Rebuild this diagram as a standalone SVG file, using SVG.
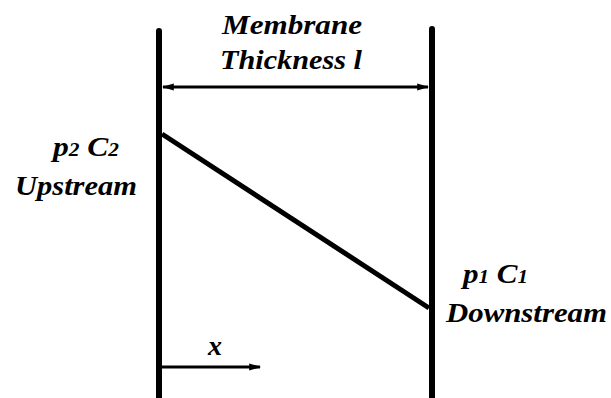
<svg xmlns="http://www.w3.org/2000/svg" width="611" height="398" viewBox="0 0 611 398">
<style>
text{font-family:'Liberation Serif','DejaVu Serif',serif;font-weight:bold;font-style:italic;font-size:28px;fill:#000}
.sub{font-size:19px}
.wall{stroke:#000;stroke-width:6;stroke-linecap:round}
.ln{stroke:#000;stroke-width:3;fill:none}
</style>
<defs>
<marker id="ah" viewBox="0 0 10 10" refX="9" refY="5" markerWidth="4" markerHeight="4" orient="auto-start-reverse" markerUnits="strokeWidth">
<path d="M0,2 L10,5 L0,8 Z" fill="#000"/>
</marker>
</defs>
<g id="wall-left"><line class="wall" x1="159" y1="31" x2="159" y2="398"/></g>
<g id="wall-right"><line class="wall" x1="432" y1="29" x2="432" y2="398"/></g>
<g id="connectors">
<line class="ln" x1="163" y1="87" x2="428" y2="87" marker-start="url(#ah)" marker-end="url(#ah)"/>
<line class="ln" x1="162" y1="134" x2="429" y2="308" style="stroke-width:5"/>
<line class="ln" x1="162" y1="367" x2="260" y2="367" marker-end="url(#ah)"/>
</g>
<g id="label-thickness">
<text x="222" y="34" textLength="140" lengthAdjust="spacingAndGlyphs">Membrane</text>
<text x="220" y="69" textLength="142" lengthAdjust="spacingAndGlyphs">Thickness l</text>
</g>
<g id="label-upstream">
<text x="53" y="156" textLength="66" lengthAdjust="spacingAndGlyphs">p<tspan class="sub">2</tspan> C<tspan class="sub">2</tspan></text>
<text x="15" y="195" textLength="122" lengthAdjust="spacingAndGlyphs">Upstream</text>
</g>
<g id="label-downstream">
<text x="463" y="283" textLength="65" lengthAdjust="spacingAndGlyphs">p<tspan class="sub">1</tspan> C<tspan class="sub">1</tspan></text>
<text x="446" y="322" textLength="161" lengthAdjust="spacingAndGlyphs">Downstream</text>
</g>
<g id="label-x"><text x="208" y="355">x</text></g>
</svg>
